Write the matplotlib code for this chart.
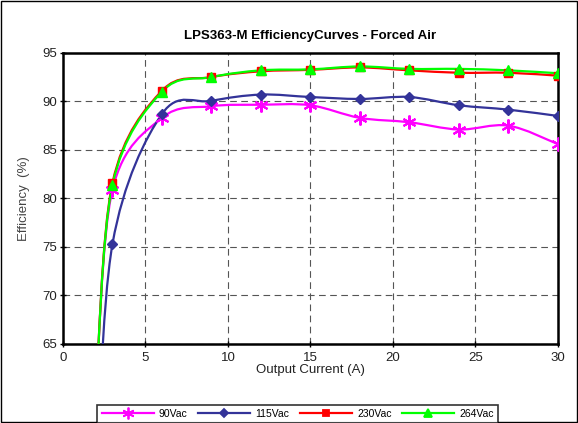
import matplotlib.pyplot as plt
import numpy as np
from matplotlib.path import Path
from matplotlib.patches import PathPatch
from matplotlib.lines import Line2D

plt.rcParams['font.family'] = ['Liberation Sans', 'DejaVu Sans']

# output current (A); first point is the low-load point below the visible range
current = [2, 3, 6, 9, 12, 15, 18, 21, 24, 27, 30]
eff_90 = [60, 80.9, 88.3, 89.5, 89.65, 89.6, 88.3, 87.85, 87.1, 87.5, 85.6]
eff_115 = [50, 75.3, 88.7, 90.05, 90.7, 90.45, 90.25, 90.45, 89.6, 89.15, 88.5]
eff_230 = [60, 81.6, 91.1, 92.5, 93.1, 93.25, 93.5, 93.2, 92.95, 92.95, 92.65]
eff_264 = [60, 81.4, 91.0, 92.5, 93.2, 93.3, 93.6, 93.35, 93.35, 93.2, 92.9]
labels = ['90Vac', '115Vac', '230Vac', '264Vac']


def smooth_path(x, y):
    # Excel-style smoothed line: cubic Bezier segments through the points
    p = np.column_stack([x, y]).astype(float)
    verts = [p[0]]
    codes = [Path.MOVETO]
    n = len(p)
    for i in range(n - 1):
        p0 = p[i - 1] if i > 0 else p[i]
        p3 = p[i + 2] if i + 2 < n else p[i + 1]
        c1 = p[i] + (p[i + 1] - p0) / 6
        c2 = p[i + 1] - (p3 - p[i]) / 6
        verts += [c1, c2, p[i + 1]]
        codes += [Path.CURVE4] * 3
    return Path(verts, codes)


fig = plt.figure(figsize=(5.78, 4.23), dpi=100)
ax = fig.add_axes([0.109, 0.187, 0.856, 0.688])

asterisk = (6, 2, 0)
series = [
    (eff_90, '#ff00ff', asterisk, 10),
    (eff_115, '#333399', 'D', 5),
    (eff_230, '#ff0000', 's', 5.5),
    (eff_264, '#00ff00', '^', 7),
]
handles = []
for (vals, col, mk, ms), lab in zip(series, labels):
    patch = PathPatch(smooth_path(current, vals), fill=False, edgecolor=col, lw=1.6, zorder=3)
    ax.add_patch(patch)
    ax.plot(current[1:], vals[1:], ls='none', marker=mk, color=col, ms=ms,
            mec=col, mew=1.5 if mk == asterisk else 1, zorder=4)
    handles.append(Line2D([], [], color=col, marker=mk, ms=ms * 0.85, lw=1.6, mew=1.3))

ax.set_xlim(0, 30)
ax.set_ylim(65, 95)
ax.set_xticks(range(0, 31, 5))
ax.set_yticks(range(65, 96, 5))
ax.tick_params(direction='inout', length=5, width=1, labelsize=9.5, labelcolor='#222222')
ax.tick_params(axis='y', pad=2)
ax.tick_params(axis='x', pad=3)
ax.grid(True, color='#555555', ls=(0, (6, 4)), lw=0.8)
for s in ax.spines.values():
    s.set_linewidth(1.8)

ax.set_title('LPS363-M EfficiencyCurves - Forced Air', fontsize=9.5, fontweight='bold', pad=10)
ax.set_xlabel('Output Current (A)', fontsize=9.5, labelpad=0, color='#222222')
ax.set_ylabel('Efficiency  (%)', fontsize=9.5, labelpad=9, color='#444444')

leg = fig.legend(handles, labels, loc='lower center', bbox_to_anchor=(0.515, -0.012), ncol=4,
                 fontsize=7.5, frameon=True, fancybox=False, edgecolor='black',
                 handlelength=5.0, columnspacing=1.0, borderpad=0.4, handletextpad=0.5)
leg.get_frame().set_linewidth(1.2)

fig.patches.append(plt.Rectangle((0.002, 0.002), 0.996, 0.996, transform=fig.transFigure,
                                 fill=False, edgecolor='black', lw=1))

fig.savefig('out.png', dpi=100)
